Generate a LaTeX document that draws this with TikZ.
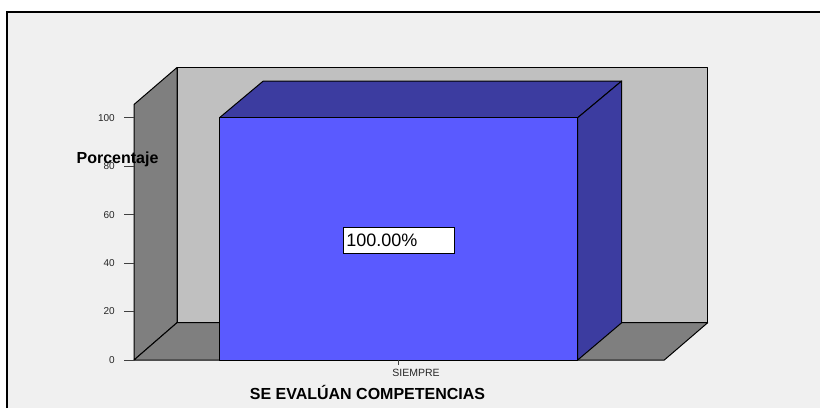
\documentclass[tikz,border=0pt]{standalone}
\usepackage{fontspec}
\setmainfont{Liberation Sans}
\usepackage{xcolor}
\usepackage{tikz}
\usetikzlibrary{positioning}

\definecolor{panel}{HTML}{F0F0F0}
\definecolor{backwall}{HTML}{C0C0C0}
\definecolor{sidewall}{HTML}{7F7F7F}
\definecolor{barfront}{HTML}{5A5AFF}
\definecolor{barside}{HTML}{3C3CA0}

\begin{document}
\begin{tikzpicture}[
  x=1pt, y=-1pt,
  wall/.style={draw=black, line width=1pt, line join=round},
  ticklabel/.style={anchor=east, font=\fontsize{10}{12}\selectfont, text=black!85, inner sep=0pt},
  axistitle/.style={font=\bfseries\fontsize{16}{19}\selectfont, inner sep=0pt},
  >=latex
]

\useasboundingbox (0,0) rectangle (820,408);
\fill[white] (0,0) rectangle (820,408);
\fill[panel] (7,12) rectangle (820,408);
\draw[line width=1.2pt] (7,408) -- (7,12) -- (820,12);

% walls and floor
\filldraw[wall, fill=backwall] (177,67.5) rectangle (707.7,322.7);
\filldraw[wall, fill=sidewall] (134,104.5) -- (177,67.5) -- (177,322.7) -- (134,360) -- cycle;
\filldraw[wall, fill=sidewall] (134,360) -- (177,322.7) -- (707.7,322.7) -- (664.3,360) -- cycle;

% bar
\filldraw[wall, fill=barside] (219.5,117.7) -- (263.3,81) -- (621.7,81) -- (577.7,117.7) -- cycle;
\filldraw[wall, fill=barside] (577.7,117.7) -- (621.7,81) -- (621.7,322.7) -- (577.7,360) -- cycle;
\filldraw[wall, fill=barfront] (219.5,117.7) rectangle (577.7,360);

% y axis
\foreach \v [count=\i from 0] in {0,20,40,60,80,100} {
  \coordinate (t\i) at (134,{360-2.4235*\v});
  \draw[black!75, line width=0.8pt] (t\i) -- ++(-10,0);
  \node[ticklabel] (lab\i) at ([xshift=-19pt]t\i) {\v};
}
\node[axistitle] (ytitle) at (117.5,159) {Porcentaje};

% x axis
\coordinate (xt) at (398.5,360);
\draw[black!75, line width=0.6pt] (xt) -- ++(0,5);
\node[font=\fontsize{10.5}{12}\selectfont, text=black!85, inner sep=0pt] (cat) at (416,372.7) {SIEMPRE};
\node[axistitle] (xtitle) at (367.5,392.7) {SE EVALÚAN COMPETENCIAS};

% value label
\node[draw=black, fill=white, line width=0.8pt, anchor=north west, minimum width=111.6pt, minimum height=26pt,
  inner xsep=3pt, inner ysep=0pt, text width=105pt, align=left, font=\fontsize{18}{20}\selectfont] (val) at (342.7,227.3) {100.00\%};

\end{tikzpicture}
\end{document}
